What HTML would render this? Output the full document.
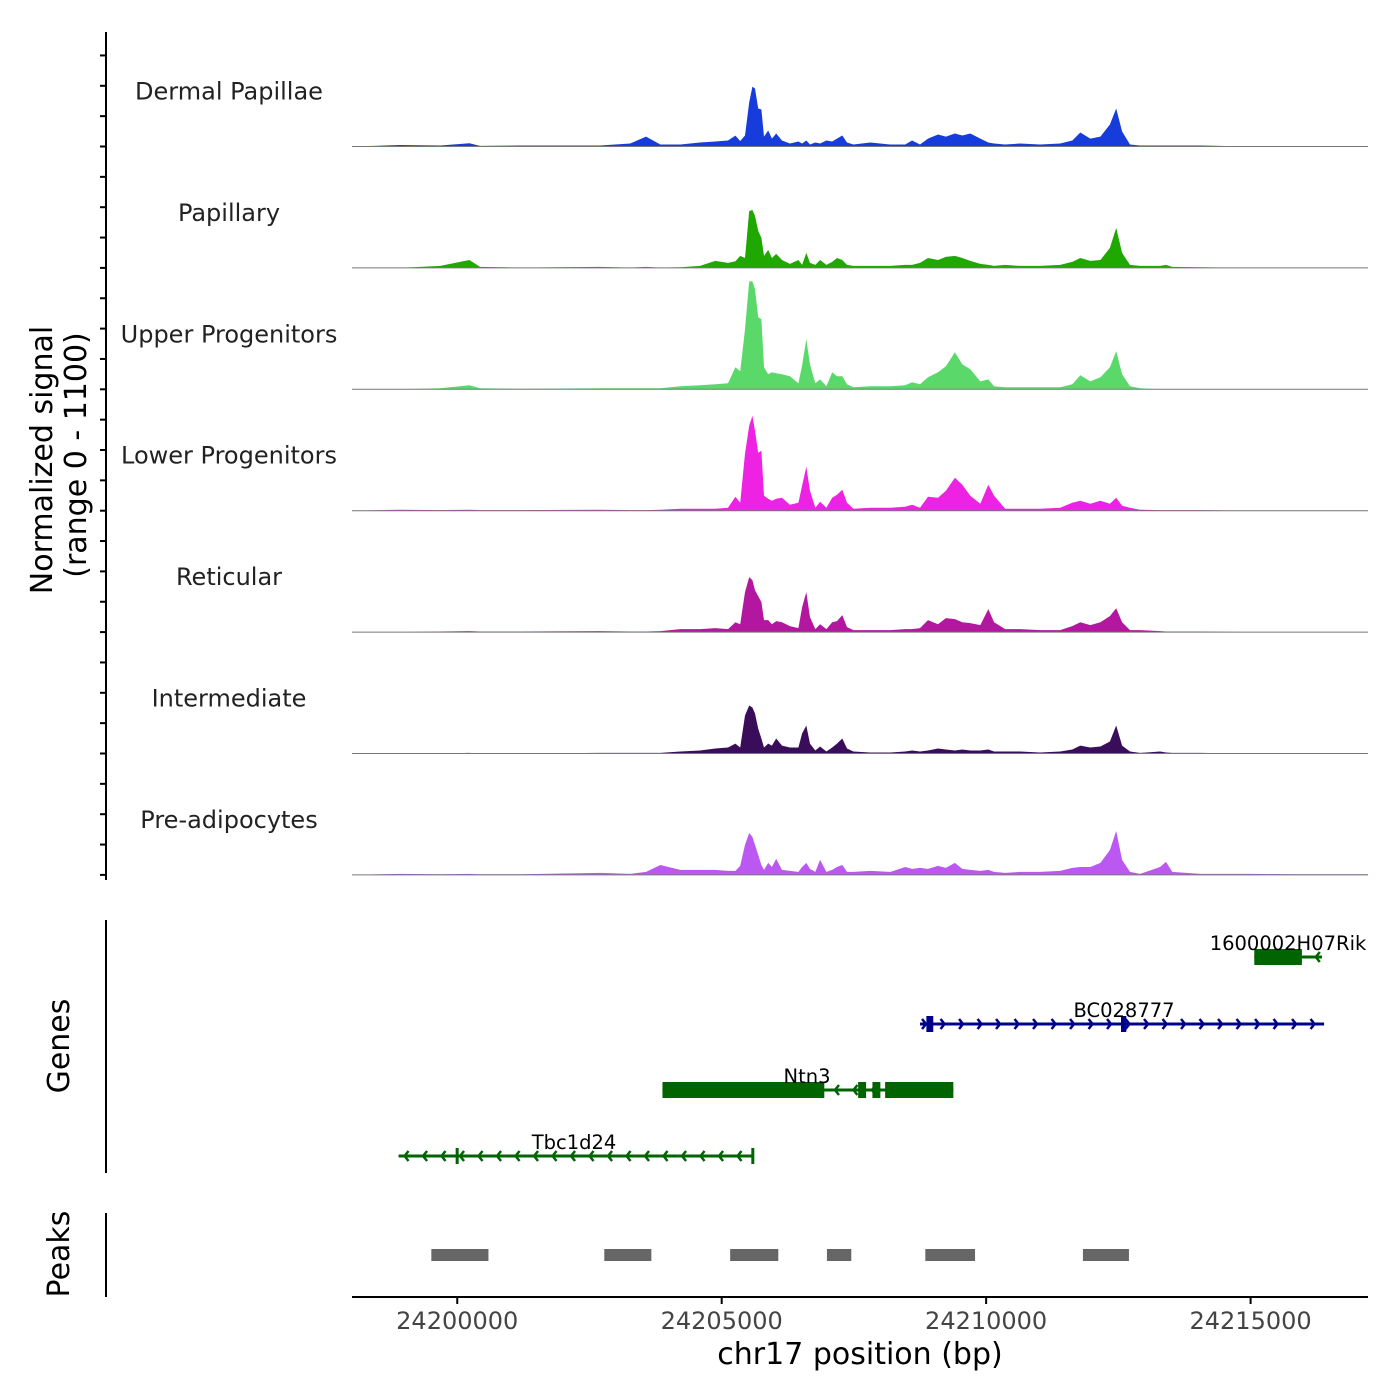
<!DOCTYPE html>
<html><head><meta charset="utf-8"><style>
html,body{margin:0;padding:0;background:#fff;}
svg{display:block;font-family:"DejaVu Sans","Liberation Sans",sans-serif;}
</style></head><body>
<svg id="chart" width="1400" height="1400" viewBox="0 0 1400 1400" xmlns="http://www.w3.org/2000/svg">
<rect width="1400" height="1400" fill="#fff"/>
<g id="tracks"></g>
<g id="genes"></g>
<g id="peaks"></g>
<g id="axes"></g>
<text transform="translate(52,460) rotate(-90)" text-anchor="middle" font-size="30" fill="#000">Normalized signal</text>
<text transform="translate(86,455) rotate(-90)" text-anchor="middle" font-size="30" fill="#000">(range 0 - 1100)</text>
<text transform="translate(69,1046) rotate(-90)" text-anchor="middle" font-size="30" fill="#000">Genes</text>
<text transform="translate(69,1254) rotate(-90)" text-anchor="middle" font-size="30" fill="#000">Peaks</text>
<text x="860" y="1364" text-anchor="middle" font-size="30" fill="#000">chr17 position (bp)</text>
</svg>
<script>
// positions in kb on chr17
const positions = [24198.02,24198.92,24199.68,24200.23,24200.43,24201.19,24202.70,24203.27,24203.57,24203.84,24204.22,24204.59,24204.88,24205.12,24205.26,24205.35,24205.44,24205.52,24205.58,24205.63,24205.69,24205.75,24205.80,24205.88,24205.95,24206.03,24206.14,24206.29,24206.45,24206.52,24206.60,24206.67,24206.77,24206.86,24206.98,24207.09,24207.18,24207.28,24207.37,24207.49,24207.81,24208.19,24208.47,24208.60,24208.75,24208.90,24209.09,24209.24,24209.41,24209.55,24209.70,24209.89,24210.04,24210.15,24210.36,24210.64,24211.02,24211.40,24211.63,24211.78,24211.97,24212.16,24212.34,24212.46,24212.57,24212.72,24212.91,24213.29,24213.40,24213.52,24214.05,24214.99,24215.94,24217.22];
const trackNames = ["Dermal Papillae","Papillary","Upper Progenitors","Lower Progenitors","Reticular","Intermediate","Pre-adipocytes"];
const trackColors = ["#163ddb","#1ea800","#5ad96a","#ee22e3","#b3179f","#3a0d5b","#bb58f2"];
const sigDP = [0,14,9,30,5,9,9,27,90,18,18,36,45,54,99,50,100,400,543,525,344,335,90,145,72,118,54,27,45,27,54,18,36,27,54,45,72,100,36,18,36,18,18,54,18,72,109,90,118,100,118,72,36,27,18,27,18,27,54,127,72,90,199,344,136,18,9,9,9,9,9,0,0,0];
const sigP = [0,0,18,72,9,3,9,3,9,3,5,18,63,45,60,109,90,516,525,471,335,272,109,163,90,127,72,36,72,27,136,45,27,72,27,54,90,72,27,18,18,18,27,27,45,90,72,100,109,90,63,36,27,18,27,18,18,27,54,90,63,72,181,362,136,27,18,18,27,9,5,0,0,0];
const sigUP = [0,0,9,36,9,5,9,9,9,9,27,36,45,54,199,163,543,978,978,906,652,634,199,136,154,145,136,118,54,217,453,226,54,90,27,154,118,118,45,18,27,27,36,63,45,109,154,208,335,226,181,72,90,27,18,18,18,18,45,127,72,109,199,344,136,27,9,0,0,0,0,0,0,0];
const sigLP = [0,9,5,9,5,5,9,5,5,9,18,18,18,27,127,72,516,770,860,725,525,543,136,109,90,109,118,54,72,226,398,181,27,82,27,118,145,190,72,18,27,27,36,54,27,127,118,181,299,235,136,63,235,136,18,18,18,27,72,90,63,90,63,118,45,27,9,5,5,5,5,0,0,0];
const sigR = [0,0,5,9,5,5,9,5,5,9,27,27,36,27,90,72,362,498,471,380,326,272,109,109,72,100,90,54,36,226,362,136,27,72,27,90,100,154,45,18,18,18,27,27,36,109,72,127,118,90,82,63,208,90,27,27,18,18,54,90,63,90,145,217,90,18,18,9,5,5,5,0,0,0];
const sigI = [0,0,0,5,0,0,5,5,5,5,18,27,45,54,90,54,344,435,417,362,226,136,54,90,72,136,72,54,54,181,254,90,27,63,18,54,90,136,45,18,9,9,18,27,18,27,45,36,27,36,27,27,36,18,18,18,9,18,36,72,54,63,109,254,72,18,5,18,9,5,5,0,0,0];
const sigPA = [0,9,5,9,5,5,18,9,27,90,45,45,45,36,36,82,272,380,344,272,181,90,45,109,72,145,45,36,27,72,109,54,27,136,27,45,72,90,27,27,36,27,72,54,63,54,82,63,109,54,45,36,45,27,18,27,27,36,63,72,72,109,226,398,136,27,9,72,118,27,9,9,5,5];
const trackSignals = [sigDP,sigP,sigUP,sigLP,sigR,sigI,sigPA];

const geneNames = ["1600002H07Rik","BC028777","Ntn3","Tbc1d24"];
const geneStarts = [24215.07,24208.75,24203.88,24198.89];
const geneEnds = [24216.35,24216.39,24209.38,24205.61];
const geneStrands = ["-","+","-","-"];
const geneColors = ["#006400","#00008b","#006400","#006400"];
const exonStarts = [[24215.07],[24208.87,24212.55],[24203.88,24207.58,24207.85,24208.09],[24199.97,24205.56]];
const exonEnds = [[24215.97],[24209.00,24212.65],[24206.94,24207.73,24208.00,24209.38],[24200.01,24205.61]];

const peakStarts = [24199.51,24202.78,24205.16,24206.99,24208.85,24211.83];
const peakEnds = [24200.59,24203.67,24206.07,24207.45,24209.79,24212.70];

const xTicks = [24200,24205,24210,24215];
const xTickLabels = ["24200000","24205000","24210000","24215000"];

const NS="http://www.w3.org/2000/svg";
const X0=352,X1=1368,D0=24198.01,D1=24217.22;
function xs(kb){return X0+(kb-D0)/(D1-D0)*(X1-X0);}
const TRACK_H=121.4, FIRST_BASE=146.5, YMAX=1100;
function ys(v,t){return FIRST_BASE+t*TRACK_H - v/YMAX*TRACK_H;}
function mk(tag,attrs,parent){const e=document.createElementNS(NS,tag);for(const k in attrs)e.setAttribute(k,attrs[k]);parent.appendChild(e);return e;}

const tracks=document.getElementById('tracks');
trackSignals.forEach((sig,t)=>{
  const base=ys(0,t);
  let d=`M${xs(positions[0])},${base}`;
  sig.forEach((v,i)=>{d+=` L${xs(positions[i]).toFixed(1)},${ys(v,t).toFixed(1)}`;});
  d+=` L${xs(positions[positions.length-1])},${base} Z`;
  const p=mk('path',{d:d,fill:trackColors[t]},tracks);
  
  
  const bl=mk('line',{x1:X0,x2:X1,y1:base,y2:base,stroke:'#777','stroke-width':1},tracks);
  
  
  const lb=mk('text',{x:229,y:base-47,'text-anchor':'middle','font-size':24,fill:'#222'},tracks);
  lb.textContent=trackNames[t];
  
  
});

const genes=document.getElementById('genes');
const geneY=[957,1024,1090,1156];
const labelX=[1288,1124,807,574];
geneNames.forEach((g,i)=>{
  const y=geneY[i],c=geneColors[i];
  const ln=mk('line',{x1:xs(geneStarts[i]),x2:xs(geneEnds[i]),y1:y,y2:y,stroke:c,'stroke-width':3},genes);
  
  
  const a=xs(geneStarts[i]),b=xs(geneEnds[i]);
  const dir=geneStrands[i]==='+'?1:-1;
  for(let x=a+6;x<=b-2;x+=18.5){
    const ch=mk('path',{d:`M${x-4*dir},${y-5} L${x},${y} L${x-4*dir},${y+5}`,fill:'none',stroke:c,'stroke-width':2.5},genes);
    
    
  }
  exonStarts[i].forEach((s,j)=>{
    const e=mk('rect',{x:xs(s),y:y-8,width:Math.max(3,xs(exonEnds[i][j])-xs(s)),height:16,fill:c},genes);
    
    
  });
  const tx=mk('text',{x:labelX[i],y:y-7,'text-anchor':'middle','font-size':19.5,fill:'#000'},genes);
  tx.textContent=g;
  
  
});

const peaks=document.getElementById('peaks');
peakStarts.forEach((s,i)=>{
  const r=mk('rect',{x:xs(s),y:1249,width:xs(peakEnds[i])-xs(s),height:12,fill:'#666'},peaks);
  
  
});

const axes=document.getElementById('axes');
function aline(x1,y1,x2,y2,name,w){const l=mk('line',{x1,y1,x2,y2,stroke:'#000','stroke-width':w||2},axes);return l;}
aline(106,32,106,880,'signal-y-axis');
for(let y=FIRST_BASE+6*TRACK_H;y>=28;y-=TRACK_H/4){aline(100,y,106,y,'y-tick');}
aline(106,920,106,1173,'genes-y-axis');
aline(106,1213,106,1297,'peaks-y-axis');
aline(352,1297,1368,1297,'x-axis-line');
xTicks.forEach((t,i)=>{
  const x=xs(t);
  aline(x,1297,x,1304,'x-tick');
  const tx=mk('text',{x:x,y:1329,'text-anchor':'middle','font-size':24,fill:'#444'},axes);
  tx.textContent=xTickLabels[i];
  
  
});
</script>
</body></html>
